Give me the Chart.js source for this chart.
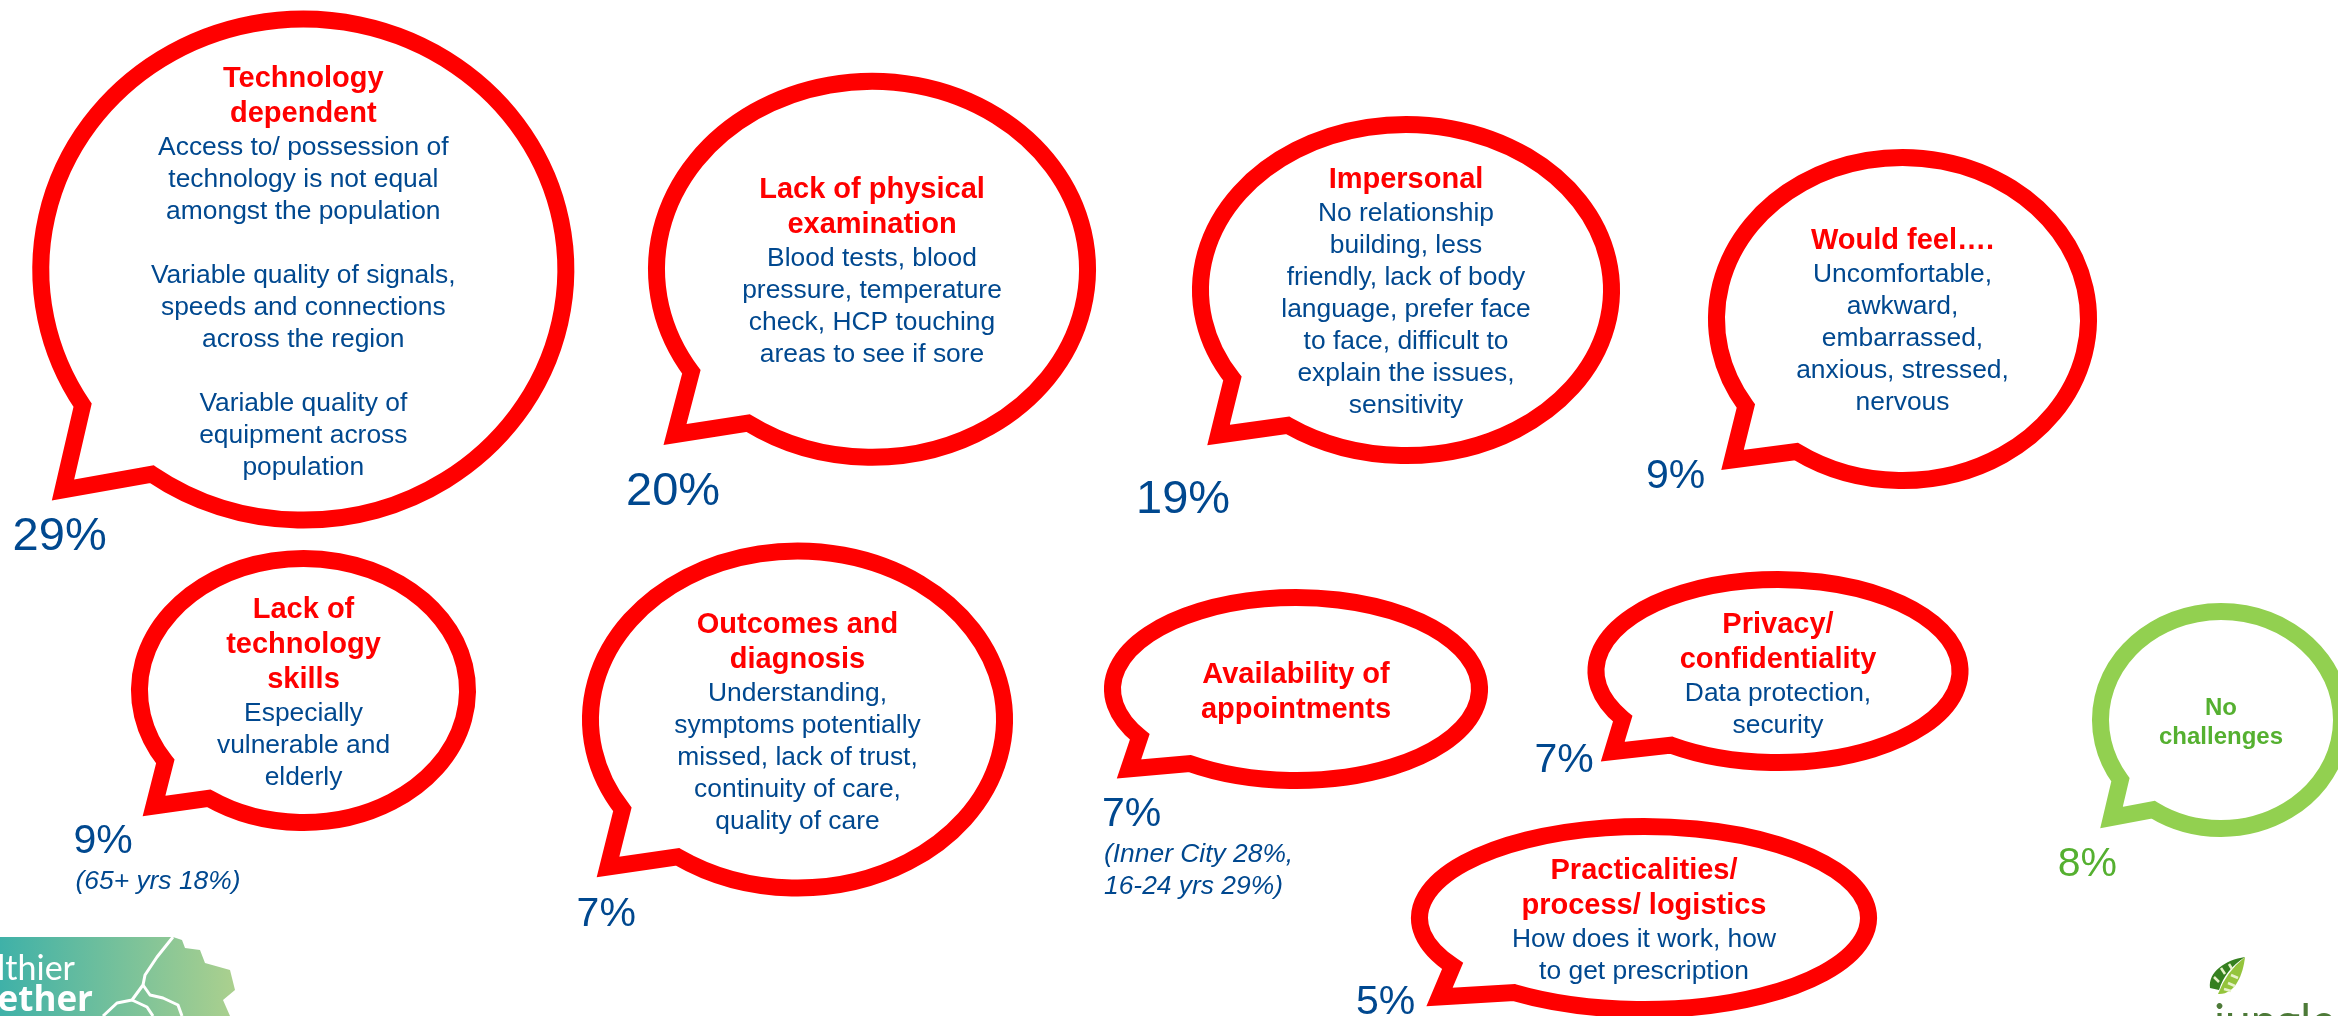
<!DOCTYPE html>
<html>
<head>
<meta charset="utf-8">
<title>Challenges of remote consultations</title>
<style>
    html, body { margin: 0; padding: 0; background: #fff; overflow: hidden; }
    canvas { display: block; }
</style>
<script src="https://cdn.jsdelivr.net/npm/chart.js"></script>
</head>
<body>
<canvas id="chart" width="2338" height="1016"></canvas>
<script>
    // values
    const titles = [
        ["Technology", "dependent"],
        ["Lack of physical", "examination"],
        ["Impersonal"],
        ["Would feel…."],
        ["Lack of", "technology", "skills"],
        ["Outcomes and", "diagnosis"],
        ["Availability of", "appointments"],
        ["Privacy/", "confidentiality"],
        ["Practicalities/", "process/ logistics"],
        ["No", "challenges"]
    ];
    const details = [
        ["Access to/ possession of", "technology is not equal", "amongst the population", "",
         "Variable quality of signals,", "speeds and connections", "across the region", "",
         "Variable quality of", "equipment across", "population"],
        ["Blood tests, blood", "pressure, temperature", "check, HCP touching", "areas to see if sore"],
        ["No relationship", "building, less", "friendly, lack of body", "language, prefer face", "to face, difficult to", "explain the issues,", "sensitivity"],
        ["Uncomfortable,", "awkward,", "embarrassed,", "anxious, stressed,", "nervous"],
        ["Especially", "vulnerable and", "elderly"],
        ["Understanding,", "symptoms potentially", "missed, lack of trust,", "continuity of care,", "quality of care"],
        [],
        ["Data protection,", "security"],
        ["How does it work, how", "to get prescription"],
        []
    ];
    const shares = [29, 20, 19, 9, 9, 7, 7, 7, 5, 8];
    const notes = [
        [], [], [], [],
        ["(65+ yrs 18%)"],
        [],
        ["(Inner City 28%,", "16-24 yrs 29%)"],
        [], [], []
    ];

    // where each bubble sits on the page scales
    const bubbleX = [303.3, 872, 1406, 1902.5, 303.5, 797.5, 1296, 1778, 1644, 2221];
    const bubbleY = [269.6, 269.3, 290, 319, 690.5, 719.5, 689, 671, 918, 720];
    const radiusX = [262.5, 215.5, 205.5, 186, 164, 207, 183.5, 182, 224.5, 120.5];
    const radiusY = [250.5, 188, 165.5, 161.5, 132, 168.5, 91.5, 91.5, 91.5, 108.5];
    const tailStart = [[83, 405], [691, 372], [1233.5, 378], [1746, 406], [165, 761.7], [623, 809], [1140.6, 736.7], [1625, 718], [1456, 965], [2120, 780]];
    const tailTip = [[63, 490], [675, 434.5], [1218.5, 435], [1732.5, 460], [154, 806], [608, 867], [1129, 769], [1612.7, 751.7], [1439.5, 997], [2111.5, 817.5]];
    const tailEnd = [[152, 474], [748, 423], [1288, 425], [1796, 451.7], [209, 798], [677.7, 856.7], [1190.5, 763], [1673, 744], [1514, 992.7], [2153, 810]];
    const textY = [87, 198, 188, 249, 617.7, 633, 682.7, 632.7, 879, 715];
    const shareX = [12.6, 626, 1136, 1646, 73.5, 576.6, 1102, 1534.5, 1356, 2057.7];
    const shareY = [550, 505, 513, 488, 852.7, 926.4, 826, 772, 1014, 876];
    const shareSize = [47, 47, 47, 41, 41, 41, 41, 41, 41, 41];

    const RED = "#ff0000";
    const BLUE = "#00488f";
    const GREEN_LINE = "#92d050";
    const GREEN_TEXT = "#55b030";
    const FONT = '"Liberation Sans", Arial, sans-serif';

    function drawBubble(ctx, chart, i, px, py) {
        const sx = chart.scales.x, sy = chart.scales.y;
        const rx = sx.getPixelForValue(bubbleX[i] + radiusX[i]) - px;
        const ry = sy.getPixelForValue(bubbleY[i] + radiusY[i]) - py;
        const a = Math.atan2((sy.getPixelForValue(tailStart[i][1]) - py) / ry, (sx.getPixelForValue(tailStart[i][0]) - px) / rx);
        const b = Math.atan2((sy.getPixelForValue(tailEnd[i][1]) - py) / ry, (sx.getPixelForValue(tailEnd[i][0]) - px) / rx);
        ctx.beginPath();
        ctx.ellipse(px, py, rx, ry, 0, a, b, false);
        ctx.lineTo(sx.getPixelForValue(tailTip[i][0]), sy.getPixelForValue(tailTip[i][1]));
        ctx.closePath();
        ctx.fillStyle = "#fff";
        ctx.fill();
        ctx.lineWidth = 17;
        ctx.lineJoin = "miter";
        ctx.miterLimit = 10;
        ctx.strokeStyle = i == 9 ? GREEN_LINE : RED;
        ctx.stroke();
    }

    function drawTexts(ctx, chart, i, px) {
        const sx = chart.scales.x, sy = chart.scales.y;
        const green = i == 9;
        let y = sy.getPixelForValue(textY[i]);
        ctx.textAlign = "center";
        ctx.textBaseline = "alphabetic";
        ctx.font = "bold " + (green ? 24 : 29) + "px " + FONT;
        ctx.fillStyle = green ? GREEN_TEXT : RED;
        titles[i].forEach((line, n) => {
            if (n > 0) y += green ? 29 : 35;
            ctx.fillText(line, px, y);
        });
        ctx.font = "26.4px " + FONT;
        ctx.fillStyle = BLUE;
        details[i].forEach((line, n) => {
            y += n == 0 ? 33 : 32;
            if (line) ctx.fillText(line, px, y);
        });

        // share label and its small note
        const lx = sx.getPixelForValue(shareX[i]);
        let ly = sy.getPixelForValue(shareY[i]);
        ctx.textAlign = "left";
        ctx.font = shareSize[i] + "px " + FONT;
        ctx.fillStyle = green ? GREEN_TEXT : BLUE;
        ctx.fillText(shares[i] + "%", lx, ly);
        ctx.font = "italic 26.4px " + FONT;
        notes[i].forEach((line, n) => {
            ly += n == 0 ? 36 : 32;
            ctx.fillText(line, lx + 2, ly);
        });
    }

    function poly(ctx, pts) {
        ctx.beginPath();
        pts.forEach((p, n) => n ? ctx.lineTo(p[0], p[1]) : ctx.moveTo(p[0], p[1]));
    }

    // the two cropped logos in the bottom corners
    function drawLogos(ctx) {
        const grad = ctx.createLinearGradient(0, 0, 235, 0);
        grad.addColorStop(0, "#3fb1a8");
        grad.addColorStop(1, "#abd08e");
        poly(ctx, [[0, 937], [173, 937], [182, 940], [185, 948], [200, 950], [205, 963], [230, 970], [235, 990], [223, 1000], [230, 1016], [0, 1016]]);
        ctx.closePath();
        ctx.fillStyle = grad;
        ctx.fill();
        ctx.strokeStyle = "#fff";
        ctx.lineWidth = 3;
        ctx.lineJoin = "round";
        poly(ctx, [[173, 937], [157, 957], [145, 975], [143, 985], [132, 1000], [117, 1003], [103, 1016]]);
        ctx.stroke();
        poly(ctx, [[143, 985], [150, 995], [163, 998], [178, 1005], [182, 1016]]);
        ctx.stroke();
        poly(ctx, [[132, 1000], [147, 1007], [153, 1016]]);
        ctx.stroke();
        ctx.fillStyle = "#fff";
        ctx.textAlign = "right";
        ctx.font = '34px Lato, "Open Sans", sans-serif';
        ctx.fillText("Healthier", 75, 980);
        ctx.font = 'bold 35px "Open Sans", Lato, sans-serif';
        ctx.fillText("Together", 93, 1011);

        ctx.beginPath();
        ctx.moveTo(2245, 957);
        ctx.bezierCurveTo(2225, 960, 2208, 972, 2210, 988);
        ctx.lineTo(2219, 990);
        ctx.quadraticCurveTo(2225, 970, 2245, 957);
        ctx.fillStyle = "#35801f";
        ctx.fill();
        ctx.beginPath();
        ctx.moveTo(2245, 957);
        ctx.quadraticCurveTo(2226, 972, 2218, 994);
        ctx.bezierCurveTo(2235, 995, 2243, 975, 2245, 957);
        ctx.fillStyle = "#94c43c";
        ctx.fill();
        // pale veins across the leaf
        ctx.strokeStyle = "#e6f2c8";
        ctx.lineWidth = 2.5;
        [[2221, 968, 2225, 974], [2229, 964, 2232, 969], [2214, 977, 2219, 982], [2231, 975, 2238, 978], [2228, 983, 2235, 986], [2224, 989, 2231, 991]].forEach(v => {
            poly(ctx, [[v[0], v[1]], [v[2], v[3]]]);
            ctx.stroke();
        });

        ctx.textAlign = "left";
        ctx.font = '46px Lato, "Open Sans", sans-serif';
        ctx.fillStyle = "#4d7a38";
        ctx.fillText("jungle", 2214, 1037);
    }

    const speechBubbles = {
        id: "speechBubbles",
        afterDatasetsDraw(chart) {
            const ctx = chart.ctx;
            const points = chart.getDatasetMeta(0).data;
            ctx.save();
            drawLogos(ctx);
            points.forEach((pt, i) => {
                drawBubble(ctx, chart, i, pt.x, pt.y);
                drawTexts(ctx, chart, i, pt.x);
            });
            ctx.restore();
        }
    };

    new Chart(document.getElementById("chart").getContext("2d"), {
        type: "scatter",
        data: {
            labels: titles.map(t => t.join(" ")),
            datasets: [{
                label: "Share of respondents",
                data: bubbleX.map((x, i) => ({ x: x, y: bubbleY[i] })),
                pointRadius: 0
            }]
        },
        options: {
            responsive: false,
            animation: false,
            layout: { padding: 0 },
            plugins: { legend: { display: false }, tooltip: { enabled: false } },
            scales: {
                x: { type: "linear", min: 0, max: 2338, display: false },
                y: { type: "linear", min: 0, max: 1016, reverse: true, display: false }
            }
        },
        plugins: [speechBubbles]
    });
</script>
</body>
</html>
